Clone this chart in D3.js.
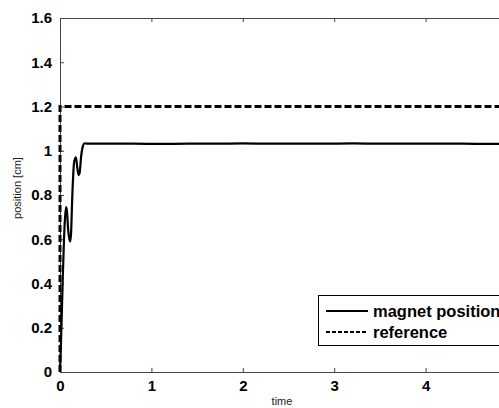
<!DOCTYPE html>
<html>
<head>
<meta charset="utf-8">
<script src="https://cdn.jsdelivr.net/npm/d3@7"></script>
<style>
  body { margin: 0; background: #fff; }
  svg { display: block; }
</style>
</head>
<body>
<script>
var w = 499;
var h = 408;

// magnet position
var magnetTime = [0, 0.01, 0.03, 0.05, 0.065, 0.075, 0.09, 0.11, 0.12, 0.135, 0.155, 0.175, 0.19, 0.205, 0.215, 0.23, 0.25, 0.27, 0.3, 0.5, 0.8, 1.1, 1.4, 1.7, 2.0, 2.3, 2.6, 2.9, 3.2, 3.5, 3.8, 4.1, 4.4, 4.7, 5.0];
var magnetPos  = [0, 0.12, 0.42, 0.66, 0.745, 0.73, 0.64, 0.59, 0.62, 0.8, 0.95, 0.97, 0.92, 0.89, 0.9, 0.97, 1.02, 1.034, 1.032, 1.032, 1.032, 1.031, 1.032, 1.032, 1.033, 1.032, 1.032, 1.032, 1.033, 1.032, 1.032, 1.032, 1.032, 1.031, 1.032];

// reference step
var refTime = [0, 0, 5];
var refPos  = [0, 1.2, 1.2];

var xTicks = [0, 1, 2, 3, 4];
var yTicks = [0, 0.2, 0.4, 0.6, 0.8, 1, 1.2, 1.4, 1.6];

var svg = d3.select("body")
    .append("svg")
    .attr("width", w)
    .attr("height", h);

var plot = {left: 60, top: 18, bottom: 372, right: 517};

var xScale = d3.scaleLinear()
    .domain([0, 5])
    .range([plot.left, plot.right]);

var yScale = d3.scaleLinear()
    .domain([0, 1.6])
    .range([plot.bottom, plot.top]);

var font = "'Liberation Sans', Arial, sans-serif";

function styleAxis(g) {
    g.select(".domain").attr("stroke", "#444");
    g.selectAll(".tick line").attr("stroke", "#444");
    g.selectAll("text").attr("font-family", font).attr("font-size", 15)
        .attr("font-weight", "bold").attr("fill", "#000");
}

// axes (ticks pointing inward)
svg.append("g")
    .attr("transform", "translate(0," + plot.bottom + ")")
    .call(d3.axisBottom(xScale).tickValues(xTicks).tickSize(-4).tickPadding(8).tickFormat(d3.format("d")))
    .call(styleAxis);

svg.append("g")
    .attr("transform", "translate(0," + plot.top + ")")
    .call(d3.axisTop(xScale).tickValues(xTicks).tickSize(-4).tickFormat(""))
    .call(styleAxis);

svg.append("g")
    .attr("transform", "translate(" + plot.left + ",0)")
    .call(d3.axisLeft(yScale).tickValues(yTicks).tickSize(-4).tickPadding(8).tickFormat(d3.format("~g")))
    .call(styleAxis);

var line = d3.line()
    .x(function (d) { return xScale(d[0]); })
    .y(function (d) { return yScale(d[1]); });

// reference line
svg.append("path")
    .datum(d3.zip(refTime, refPos))
    .attr("d", line)
    .attr("fill", "none")
    .attr("stroke", "#000")
    .attr("stroke-width", 3)
    .attr("stroke-dasharray", "7,3");

// magnet position
svg.append("path")
    .datum(d3.zip(magnetTime, magnetPos))
    .attr("d", line.curve(d3.curveMonotoneX))
    .attr("fill", "none")
    .attr("stroke", "#000")
    .attr("stroke-width", 2.2);

// axis labels
svg.append("text")
    .attr("x", 282)
    .attr("y", 405)
    .attr("text-anchor", "middle")
    .attr("font-family", font)
    .attr("font-size", 11)
    .attr("fill", "#222")
    .text("time");

svg.append("text")
    .attr("transform", "translate(21,188) rotate(-90)")
    .attr("text-anchor", "middle")
    .attr("font-family", font)
    .attr("font-size", 11)
    .attr("fill", "#222")
    .text("position [cm]");

// legend
var legend = svg.append("g");
legend.append("rect")
    .attr("x", 318.5).attr("y", 295.5)
    .attr("width", 210).attr("height", 50)
    .attr("fill", "#fff").attr("stroke", "#000").attr("stroke-width", 1);

var legendItems = [
    {name: "magnet position", dash: null},
    {name: "reference", dash: "4,2"}
];

legendItems.forEach(function (d, i) {
    var yy = 311 + i * 21;
    legend.append("line")
        .attr("x1", 326).attr("x2", 368)
        .attr("y1", yy).attr("y2", yy)
        .attr("stroke", "#000")
        .attr("stroke-width", 2.2)
        .attr("stroke-dasharray", d.dash);
    legend.append("text")
        .attr("x", 373).attr("y", yy + 5.5)
        .attr("font-family", font)
        .attr("font-size", 16.5)
        .attr("font-weight", "bold")
        .text(d.name);
});
</script>
</body>
</html>
